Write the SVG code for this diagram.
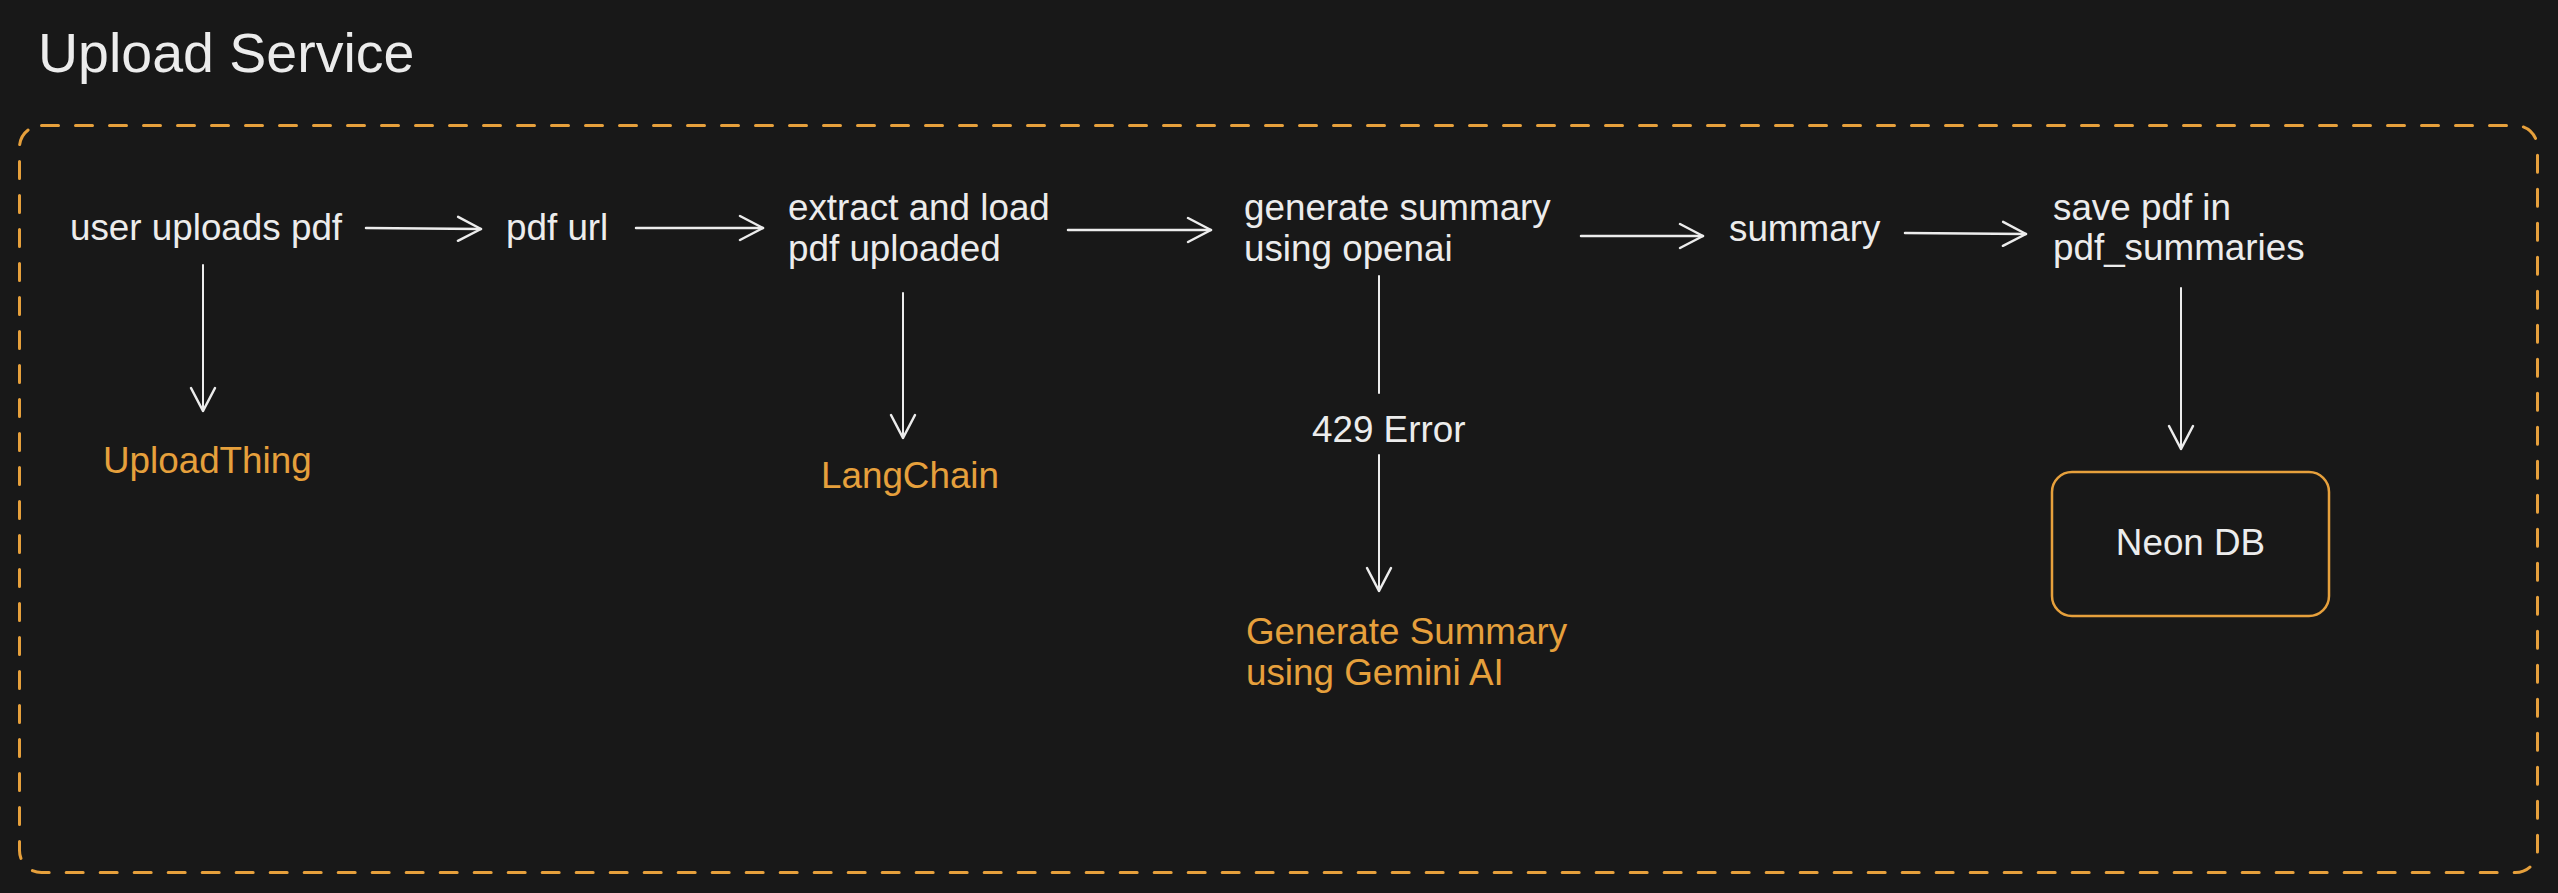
<svg xmlns="http://www.w3.org/2000/svg" width="2558" height="893" viewBox="0 0 2558 893">
  <style>
    .t { font-family: "Liberation Sans", Arial, sans-serif; font-size: 36.8px; fill: #ececec; }
    .o { fill: #e6a03c; }
    .title { font-size: 55.5px; }
    .c { fill: none; stroke: #ececec; stroke-linecap: round; }
    .h { stroke-width: 2.5; }
    .v { stroke-width: 2; }
  </style>
  <defs>
    <marker id="arr" viewBox="-28 -16 32 32" markerWidth="32" markerHeight="32" refX="0" refY="0" orient="auto" markerUnits="userSpaceOnUse">
      <path d="M -23 -12 L 0 0 L -23 12" fill="none" stroke="#ececec" stroke-width="2.5" stroke-linecap="round" stroke-linejoin="round"/>
    </marker>
  </defs>
  <rect width="2558" height="893" fill="#181818"/>

  <g id="title">
    <text class="t title" x="38" y="72">Upload Service</text>
  </g>

  <g id="frame">
    <rect x="19.5" y="125.5" width="2518" height="747" rx="22" fill="none" stroke="#e6a03c" stroke-width="3" stroke-dasharray="17 17" stroke-linecap="round"/>
  </g>

  <g id="connectors">
    <path class="c h" d="M 366 228 L 481 229" marker-end="url(#arr)"/>
    <path class="c h" d="M 636 228 L 763 228" marker-end="url(#arr)"/>
    <path class="c h" d="M 1068 230 L 1211 230" marker-end="url(#arr)"/>
    <path class="c h" d="M 1581 236 L 1703 236" marker-end="url(#arr)"/>
    <path class="c h" d="M 1905 233 L 2026 234" marker-end="url(#arr)"/>
    <path class="c v" d="M 203 265 L 203 411" marker-end="url(#arr)"/>
    <path class="c v" d="M 903 293 L 903 438" marker-end="url(#arr)"/>
    <path class="c v" d="M 1379 276 L 1379 393"/>
    <path class="c v" d="M 1379 455 L 1379 591" marker-end="url(#arr)"/>
    <path class="c v" d="M 2181 288 L 2181 449" marker-end="url(#arr)"/>
  </g>

  <g id="user-uploads">
    <text class="t" x="70" y="240">user uploads pdf</text>
  </g>
  <g id="pdf-url">
    <text class="t" x="506" y="240">pdf url</text>
  </g>
  <g id="extract">
    <text class="t" x="788" y="220">extract and load</text>
    <text class="t" x="788" y="261">pdf uploaded</text>
  </g>
  <g id="generate">
    <text class="t" x="1244" y="220">generate summary</text>
    <text class="t" x="1244" y="261">using openai</text>
  </g>
  <g id="summary">
    <text class="t" x="1729" y="241">summary</text>
  </g>
  <g id="save">
    <text class="t" x="2053" y="220">save pdf in</text>
    <text class="t" x="2053" y="260">pdf_summaries</text>
  </g>
  <g id="uploadthing">
    <text class="t o" x="103" y="473">UploadThing</text>
  </g>
  <g id="langchain">
    <text class="t o" x="821" y="488">LangChain</text>
  </g>
  <g id="error429">
    <text class="t" x="1312" y="442">429 Error</text>
  </g>
  <g id="gemini">
    <text class="t o" x="1246" y="644">Generate Summary</text>
    <text class="t o" x="1246" y="685">using Gemini AI</text>
  </g>
  <g id="neon-db">
    <rect x="2052" y="472" width="277" height="144" rx="20" fill="none" stroke="#e6a03c" stroke-width="2.5"/>
    <text class="t" x="2190.5" y="555" text-anchor="middle">Neon DB</text>
  </g>
</svg>
